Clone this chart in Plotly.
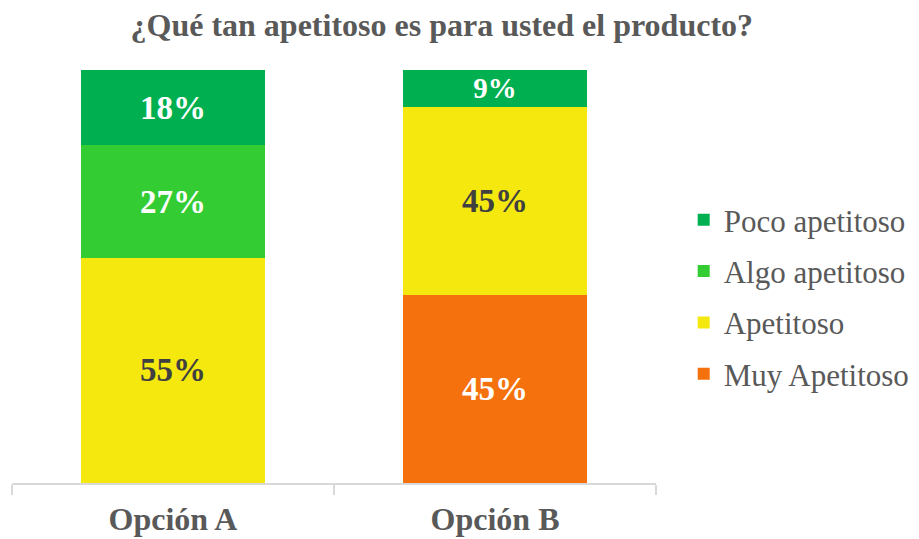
import plotly.graph_objects as go

# Data (share of answers, %)
categories = ["Opción A", "Opción B"]
series_names = ["Muy Apetitoso", "Apetitoso", "Algo apetitoso", "Poco apetitoso"]
muy_apetitoso = [0, 45.5]
apetitoso = [54.5, 45.5]
algo_apetitoso = [27.3, 0]
poco_apetitoso = [18.2, 9.1]
series_values = [muy_apetitoso, apetitoso, algo_apetitoso, poco_apetitoso]
series_labels = [["", "45%"], ["55%", "45%"], ["27%", ""], ["18%", "9%"]]

colors = ["#F5710E", "#F4E80F", "#33CC33", "#00B050"]
text_colors = ["white", "#404040", "white", "white"]

fig = go.Figure()
# traces go bottom-up in the stack; legend lists them top-down
for i, (name, vals, labels, col, tcol) in enumerate(
        zip(series_names, series_values, series_labels, colors, text_colors)):
    fig.add_trace(go.Bar(
        x=categories,
        y=vals,
        name=name,
        legendgroup=name,
        legendrank=1000 - i,
        marker=dict(color=col, line=dict(width=0)),
        text=labels,
        textposition="inside",
        insidetextanchor="middle",
        textangle=0,
        textfont=dict(family="Liberation Serif", size=33, color=tcol, weight="bold"),
    ))

fig.update_layout(
    barmode="stack",
    bargap=0.43,
    width=919,
    height=539,
    margin=dict(l=4, r=271, t=62, b=64),
    paper_bgcolor="white",
    plot_bgcolor="white",
    uniformtext=dict(mode=False),
    title=dict(
        text="<b>¿Qué tan apetitoso es para usted el producto?</b>",
        x=0.472, xanchor="center", y=0.968, yanchor="middle",
        font=dict(family="Liberation Serif", size=32, color="#595959"),
    ),
    legend=dict(
        traceorder="grouped",
        x=1.043, xanchor="left", y=0.45, yanchor="middle",
        font=dict(family="Liberation Serif", size=31, color="#595959"),
        tracegroupgap=8,
        bgcolor="rgba(0,0,0,0)",
    ),
)

fig.update_xaxes(
    showline=True, linecolor="#D9D9D9", linewidth=2,
    ticks="outside", tickson="boundaries", ticklen=10, tickcolor="#D9D9D9", tickwidth=2,
    ticklabelstandoff=7,
    tickfont=dict(family="Liberation Serif", size=32, color="#595959", weight="bold"),
    showgrid=False, automargin=False,
)
fig.update_yaxes(range=[0, 100], visible=False, showgrid=False)

fig.write_html("out.html")
